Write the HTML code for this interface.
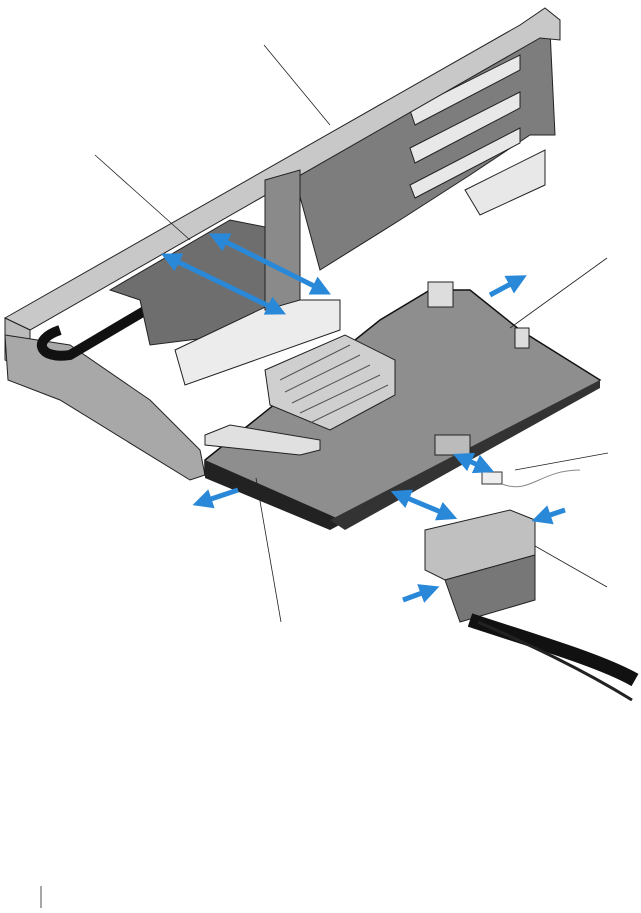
<!DOCTYPE html>
<html><head><style>body{margin:0;background:#fff;width:641px;height:908px;overflow:hidden}</style></head>
<body>
<svg width="641" height="908" viewBox="0 0 641 908" xmlns="http://www.w3.org/2000/svg">
<defs>
<marker id="a" markerWidth="4" markerHeight="4" refX="2" refY="2" orient="auto-start-reverse"><path d="M0,0 L4,2 L0,4 z" fill="#2a88d8"/></marker>
</defs>
<!-- riser back panel -->
<polygon points="290,160 550,30 555,135 530,135 470,175 400,220 320,270" fill="#7d7d7d" stroke="#222" stroke-width="1"/>
<!-- slots -->
<g fill="#e8e8e8" stroke="#222" stroke-width="1">
<polygon points="410,110 520,55 520,70 415,125"/>
<polygon points="410,148 520,92 520,108 415,163"/>
<polygon points="410,185 520,128 520,143 415,198"/>
<polygon points="465,190 545,150 545,185 480,215"/>
</g>
<!-- top rail -->
<polygon points="5,318 520,25 545,8 560,20 560,40 540,38 30,330" fill="#c8c8c8" stroke="#222"/>
<polygon points="5,318 30,330 30,370 5,360" fill="#bbb" stroke="#222"/>
<!-- left frame bottom -->
<polygon points="5,335 70,345 150,400 200,450 205,475 190,480 60,400 8,380" fill="#a8a8a8" stroke="#222"/>
<path d="M60,330 C30,340 40,360 70,355 L180,290" fill="none" stroke="#111" stroke-width="10"/>
<!-- middle divider -->
<polygon points="110,290 230,220 270,228 270,330 150,345 140,300" fill="#6e6e6e" stroke="#222"/>
<polygon points="175,350 280,300 340,300 340,330 185,385" fill="#ececec" stroke="#222"/>
<polygon points="265,180 300,170 300,300 265,310" fill="#8a8a8a" stroke="#222"/>
<!-- board -->
<polygon points="205,460 380,320 430,290 470,290 520,330 600,380 590,392 345,522 330,527 205,475" fill="#8e8e8e" stroke="#111" stroke-width="1.5"/>
<polygon points="205,460 330,515 345,522 330,530 205,478" fill="#222"/>
<polygon points="330,520 600,380 600,388 345,530" fill="#333"/>
<!-- heatsink -->
<polygon points="265,370 345,335 395,360 395,395 330,430 270,405" fill="#cfcfcf" stroke="#222"/>
<g stroke="#555" stroke-width="1"><line x1="280" y1="380" x2="350" y2="345"/><line x1="285" y1="392" x2="360" y2="355"/><line x1="292" y1="403" x2="370" y2="365"/><line x1="300" y1="413" x2="380" y2="375"/><line x1="310" y1="423" x2="388" y2="385"/></g>
<!-- battery pad -->
<polygon points="205,435 230,425 320,440 320,450 300,455 205,445" fill="#e0e0e0" stroke="#222"/>
<!-- connectors small -->
<rect x="428" y="282" width="25" height="25" fill="#ddd" stroke="#222"/>
<rect x="515" y="328" width="14" height="20" fill="#ddd" stroke="#222"/>
<rect x="435" y="435" width="35" height="20" fill="#bbb" stroke="#222"/>
<!-- cable connector -->
<polygon points="425,530 510,510 535,520 535,555 445,580 425,570" fill="#c0c0c0" stroke="#222"/>
<polygon points="445,580 535,555 535,600 460,622" fill="#777" stroke="#222"/>
<path d="M470,620 C530,640 600,660 635,680" fill="none" stroke="#111" stroke-width="14"/>
<path d="M478,622 C530,645 580,668 632,700" fill="none" stroke="#222" stroke-width="3"/>
<!-- sensor -->
<rect x="482" y="472" width="20" height="12" fill="#eee" stroke="#333"/>
<path d="M502,484 C530,495 540,470 580,470" fill="none" stroke="#888"/>
<!-- blue arrows -->
<g stroke="#2a88d8" stroke-width="5" fill="none" marker-start="url(#a)" marker-end="url(#a)">
<line x1="218" y1="238" x2="322" y2="290"/>
<line x1="170" y1="258" x2="277" y2="310"/>
<line x1="400" y1="495" x2="448" y2="515"/>
<line x1="462" y1="458" x2="485" y2="468"/>
</g>
<g stroke="#2a88d8" stroke-width="5" fill="none" marker-end="url(#a)">
<line x1="490" y1="295" x2="518" y2="280"/>
<line x1="238" y1="490" x2="202" y2="502"/>
<line x1="565" y1="510" x2="541" y2="518"/>
<line x1="403" y1="600" x2="430" y2="590"/>
</g>
<!-- leader lines -->
<g stroke="#222" stroke-width="0.8">
<line x1="264" y1="45" x2="330" y2="125"/>
<line x1="95" y1="155" x2="190" y2="240"/>
<line x1="607" y1="258" x2="510" y2="328"/>
<line x1="608" y1="453" x2="515" y2="470"/>
<line x1="607" y1="587" x2="535" y2="546"/>
<line x1="281" y1="622" x2="256" y2="478"/>
<line x1="41" y1="886" x2="41" y2="908"/>
</g>
</svg>
</body></html>
